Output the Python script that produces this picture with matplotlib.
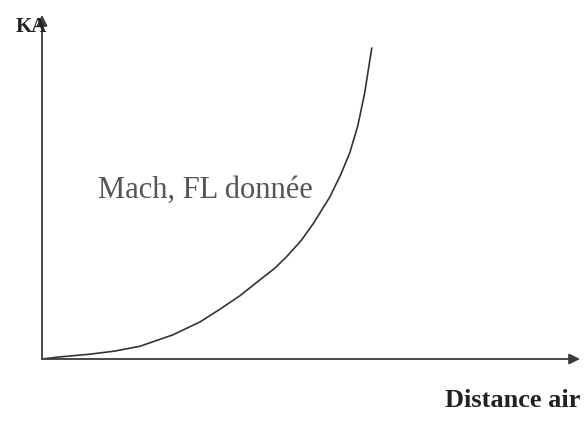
import numpy as np
import matplotlib
matplotlib.use("Agg")
import matplotlib.pyplot as plt

# courbe KA en fonction de la distance air (unités arbitraires)
distance = [0, 3.3, 8.9, 13.5, 18.2, 24.3, 29.4, 33.1, 36.8, 40.5, 43.2, 45.5, 48.2, 50.4, 53.5, 55.5, 57.2, 58.7, 60.0, 60.9, 61.3]
ka = [0, 0.6, 1.4, 2.3, 3.7, 7.0, 10.8, 14.5, 18.4, 23.0, 26.3, 29.8, 34.5, 39.3, 47.1, 53.5, 59.9, 67.8, 77.5, 86.5, 90.4]

xlabel = "Distance air"
ylabel = "KA"
courbe_label = "Mach, FL donnée"

plt.rcParams['font.family'] = ['Liberation Serif', 'DejaVu Serif']

fig = plt.figure(figsize=(5.87, 4.26), dpi=100)
ax = fig.add_axes([42/587, (426-359)/426, 538/587, 344/426])
ax.set_xlim(0, 100)
ax.set_ylim(0, 100)
ax.axis('off')

axis_col = '#3a3a3a'
# axes avec flèches
ax.annotate('', xy=(100, 0), xytext=(0, 0),
            arrowprops=dict(arrowstyle='-|>', color=axis_col, lw=1.3,
                            mutation_scale=16, shrinkA=0, shrinkB=0))
ax.annotate('', xy=(0, 100), xytext=(0, 0),
            arrowprops=dict(arrowstyle='-|>', color=axis_col, lw=1.3,
                            mutation_scale=16, shrinkA=0, shrinkB=0))

ax.plot(distance, ka, color='#333333', lw=1.2, solid_capstyle='round',
        solid_joinstyle='round')

ax.text(1.0, 96.5, ylabel, ha='right', va='center', fontsize=15,
        fontweight='bold', color='#222222')
ax.text(100, -12.0, xlabel, ha='right', va='center', fontsize=19,
        fontweight='bold', color='#222222')
ax.text(10.5, 46.8, courbe_label, ha='left', va='baseline', fontsize=22,
        color='#555555')

fig.savefig('out.png', dpi=100)
